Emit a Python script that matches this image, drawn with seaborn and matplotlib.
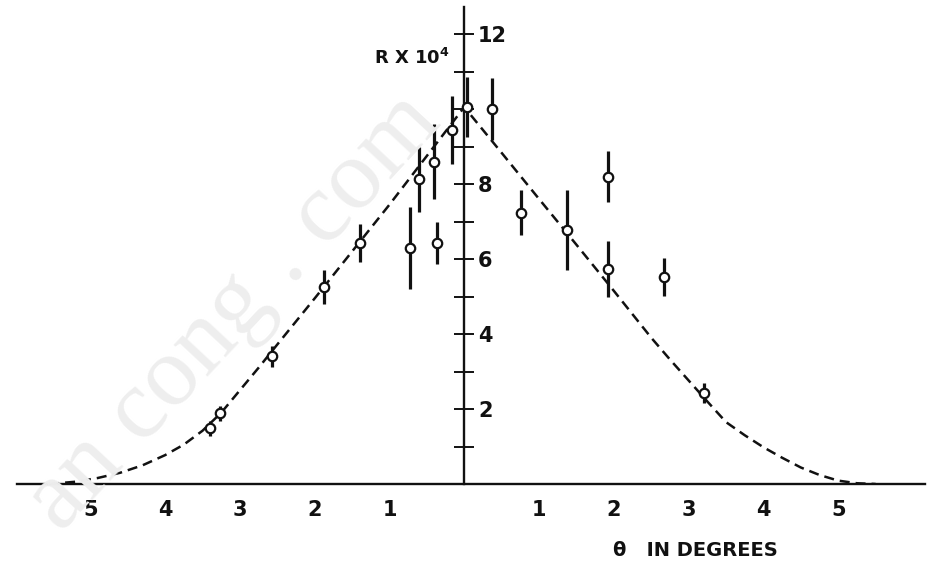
import matplotlib
matplotlib.use("Agg")
import matplotlib.pyplot as plt
import seaborn as sns

# Measured reflection ratio R (x 10^4) with its uncertainty, vs. angle theta (degrees)
theta_pts = [-3.40, -3.27, -2.57, -1.87, -1.40, -0.73, -0.61, -0.41, -0.37, -0.16,
             0.03, 0.37, 0.76, 1.37, 1.92, 1.92, 2.67, 3.20]
R_pts = [1.49, 1.89, 3.41, 5.25, 6.43, 6.29, 8.13, 8.59, 6.43, 9.44,
         10.05, 10.00, 7.23, 6.77, 8.19, 5.73, 5.52, 2.43]
R_err = [0.20, 0.20, 0.28, 0.45, 0.50, 1.10, 0.87, 1.00, 0.57, 0.90,
         0.80, 0.83, 0.60, 1.07, 0.68, 0.75, 0.50, 0.27]

# Calculated curve (dashed)
theta_curve = [-5.55, -5.2, -4.9, -4.6, -4.3, -4.0, -3.75, -3.5, -3.25, -3.0, -2.75,
               -2.5, -2.0, -1.5, -1.0, -0.5, 0.0, 0.5, 1.0, 1.5, 2.0, 2.5, 2.75,
               3.0, 3.25, 3.5, 3.75, 4.0, 4.25, 4.5, 4.75, 5.0, 5.25, 5.5]
R_curve = [0.0, 0.06, 0.16, 0.30, 0.50, 0.77, 1.05, 1.42, 1.90, 2.50, 3.10,
           3.72, 4.95, 6.20, 7.45, 8.75, 10.05, 8.83, 7.60, 6.38, 5.15, 3.90, 3.32,
           2.76, 2.20, 1.65, 1.30, 0.98, 0.70, 0.44, 0.24, 0.09, 0.02, 0.0]

# Axis ticks and labels
x_ticks = [-5.6, -5, -4, -3, -2, -1, 1, 2, 3, 4, 5, 5.6]
x_ticklabels = ["", "5", "4", "3", "2", "1", "1", "2", "3", "4", "5", ""]
y_ticks = [1, 2, 3, 4, 5, 6, 7, 8, 9, 10, 11, 12]
y_ticklabels = ["", "2", "", "4", "", "6", "", "8", "", "", "", "12"]

sns.set_style("white")
plt.rcParams["font.family"] = ["DejaVu Sans"]

W, H = 932, 567
fig = plt.figure(figsize=(W / 100, H / 100), dpi=100)
ax = fig.add_axes([17 / W, 83 / H, 908 / W, 477 / H])
ax.set_facecolor("none")

ink = "#111111"

# faint watermark across the lower left
fig.text(234 / W, 1 - 312 / H, "an cong . com", rotation=47, rotation_mode="anchor",
         ha="center", va="center", fontsize=72, family="Liberation Serif",
         color="#eeeeee", zorder=0)

sns.lineplot(x=theta_curve, y=R_curve, ax=ax, sort=False, color=ink,
             linewidth=1.8, linestyle=(0, (4, 2.4)), zorder=2)

ax.errorbar(theta_pts, R_pts, yerr=R_err, fmt="none", ecolor=ink,
            elinewidth=2.3, capsize=0, zorder=3)
sns.scatterplot(x=theta_pts, y=R_pts, ax=ax, marker="o", s=46,
                facecolor="white", edgecolor=ink, linewidth=1.6, zorder=4)

ax.set_xlim(-5.98, 6.16)
ax.set_ylim(0, 12.72)

for side in ("top", "left"):
    ax.spines[side].set_visible(False)
ax.spines["right"].set_position(("data", 0))
ax.spines["bottom"].set_position(("data", 0))
for side in ("right", "bottom"):
    ax.spines[side].set_linewidth(1.7)
    ax.spines[side].set_color(ink)
ax.yaxis.tick_right()

ax.set_xticks(x_ticks)
ax.set_xticklabels(x_ticklabels)
ax.set_yticks(y_ticks)
ax.set_yticklabels(y_ticklabels)

ax.tick_params(axis="x", direction="inout", length=9.5, width=1.4, pad=7,
               colors=ink, labelsize=15)
ax.tick_params(axis="y", direction="inout", length=14, width=1.4, pad=3,
               colors=ink, labelsize=15)
for lab in ax.get_xticklabels() + ax.get_yticklabels():
    lab.set_fontweight("bold")

ax.set_xlabel("")
ax.set_ylabel("")

ax.text(-0.20, 11.35, r"R X 10$^{\mathbf{4}}$", ha="right", va="center",
        fontsize=13, fontweight="bold", color=ink)
fig.text(695 / W, 1 - 550 / H, "θ   IN DEGREES", ha="center", va="center",
         fontsize=14, fontweight="bold", color=ink)

fig.savefig("out.png", dpi=100, facecolor="white")
